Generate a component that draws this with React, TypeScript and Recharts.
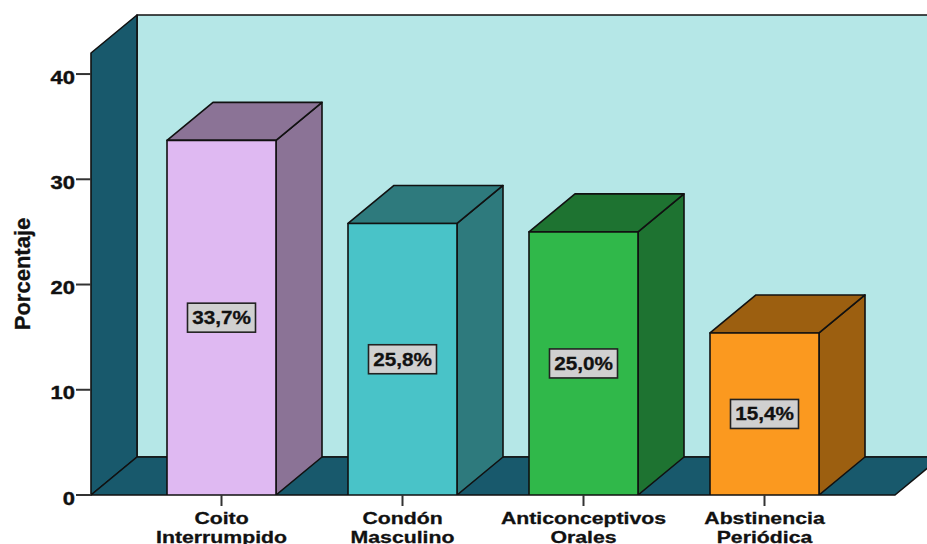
import { BarChart, Bar, XAxis, YAxis, ReferenceArea, LabelList } from "recharts";

const CATEGORIES = ["Coito Interrumpido", "Condón Masculino", "Anticonceptivos Orales", "Abstinencia Periódica"];
const VALUES = [33.7, 25.8, 25.0, 15.4];
const VALUE_LABELS = ["33,7%", "25,8%", "25,0%", "15,4%"];
const Y_TICKS = [0, 10, 20, 30, 40];
const FRONT_COLORS = ["#dfb9f2", "#49c3c8", "#30b84a", "#fb991f"];
const SIDE_COLORS = ["#8b7396", "#2e7a7d", "#1e7331", "#9c5f10"];

const DEPTH_X = 46;
const DEPTH_Y = 38;
const AXIS_PAD = 40;
const LINE = "#111";
const FONT = "'Liberation Sans', Arial, sans-serif";

const data = CATEGORIES.map((name, i) => ({ name, value: VALUES[i], label: VALUE_LABELS[i] }));

function pts(list: number[][]) {
  return list.map(p => p.join(",")).join(" ");
}

function Walls({ x: rangeX, y, width, height }: any) {
  // the scale range leaves out the axis padding, the walls do not
  const x = rangeX - AXIS_PAD;
  const right = rangeX + width + AXIS_PAD;
  const bottom = y + height;
  return (
    <g stroke={LINE} strokeWidth={1.6} strokeLinejoin="round">
      <polygon points={pts([[x + DEPTH_X, y - DEPTH_Y], [right + DEPTH_X, y - DEPTH_Y], [right + DEPTH_X, bottom - DEPTH_Y], [x + DEPTH_X, bottom - DEPTH_Y]])} fill="#b5e7e7" />
      <polygon points={pts([[x, y], [x + DEPTH_X, y - DEPTH_Y], [x + DEPTH_X, bottom - DEPTH_Y], [x, bottom]])} fill="#18596c" />
      <polygon points={pts([[x, bottom], [x + DEPTH_X, bottom - DEPTH_Y], [right + DEPTH_X, bottom - DEPTH_Y], [right, bottom]])} fill="#18596c" />
    </g>
  );
}

function Box3D({ x, y, width, height, index }: any) {
  const r = x + width;
  const b = y + height;
  return (
    <g stroke={LINE} strokeWidth={1.6} strokeLinejoin="round">
      <polygon points={pts([[r, y], [r + DEPTH_X, y - DEPTH_Y], [r + DEPTH_X, b - DEPTH_Y], [r, b]])} fill={SIDE_COLORS[index]} />
      <polygon points={pts([[x, y], [x + DEPTH_X, y - DEPTH_Y], [r + DEPTH_X, y - DEPTH_Y], [r, y]])} fill={SIDE_COLORS[index]} />
      <rect x={x} y={y} width={width} height={height} fill={FRONT_COLORS[index]} />
    </g>
  );
}

function ValueBox({ x, y, width, height, index }: any) {
  const cx = x + width / 2;
  const cy = y + height / 2;
  return (
    <g>
      <rect x={cx - 34} y={cy - 14.5} width={68} height={29} fill="#d0d0d0" stroke="#222" strokeWidth={1.6} />
      <text transform={`translate(${cx},${cy + 6.5}) scale(1.15,1)`} textAnchor="middle" fontFamily={FONT} fontWeight="bold" fontSize={18} fill={LINE} stroke={LINE} strokeWidth={0.3}>
        {VALUE_LABELS[index]}
      </text>
    </g>
  );
}

function CategoryTick({ x, y, payload }: any) {
  const lines = String(payload.value).split(" ");
  return (
    <g fontFamily={FONT} fontWeight="bold" fontSize={17} fill={LINE} textAnchor="middle">
      {lines.map((line, i) => (
        <text key={line} transform={`translate(${x},${y + 18 + i * 19}) scale(1.25,1)`} stroke={LINE} strokeWidth={0.3}>
          {line}
        </text>
      ))}
    </g>
  );
}

function ValueTick({ x, y, payload }: any) {
  return (
    <text transform={`translate(${x},${y + 9.5}) scale(1.22,1)`} textAnchor="end" fontFamily={FONT} fontWeight="bold" fontSize={18} fill={LINE} stroke={LINE} strokeWidth={0.4}>
      {payload.value}
    </text>
  );
}

function AxisTitle() {
  return (
    <text transform="translate(30,274) rotate(-90)" textAnchor="middle" fontFamily={FONT} fontWeight="bold" fontSize={22} fill={LINE} stroke={LINE} strokeWidth={0.3}>
      Porcentaje
    </text>
  );
}

export default function App() {
  return (
    <div style={{ position: "absolute", left: 0, top: 0, width: 927, height: 544, overflow: "hidden", background: "#fff" }}>
      <BarChart width={927} height={544} data={data} margin={{ top: 53, right: 32, bottom: 0, left: 0 }} barSize={109}>
        <XAxis
          dataKey="name"
          interval={0}
          height={49}
          padding={{ left: AXIS_PAD, right: AXIS_PAD }}
          axisLine={false}
          tickSize={11}
          tickMargin={0}
          tickLine={{ stroke: "#333", strokeWidth: 2 }}
          tick={<CategoryTick />}
        />
        <YAxis
          width={91}
          domain={[0, 42]}
          ticks={Y_TICKS}
          allowDataOverflow
          axisLine={false}
          tickSize={15}
          tickMargin={1}
          tickLine={{ stroke: "#333", strokeWidth: 2 }}
          tick={<ValueTick />}
          label={<AxisTitle />}
        />
        <ReferenceArea y1={0} y2={42} ifOverflow="visible" shape={<Walls />} />
        <Bar dataKey="value" isAnimationActive={false} shape={<Box3D />}>
          <LabelList dataKey="label" content={<ValueBox />} />
        </Bar>
      </BarChart>
    </div>
  );
}
